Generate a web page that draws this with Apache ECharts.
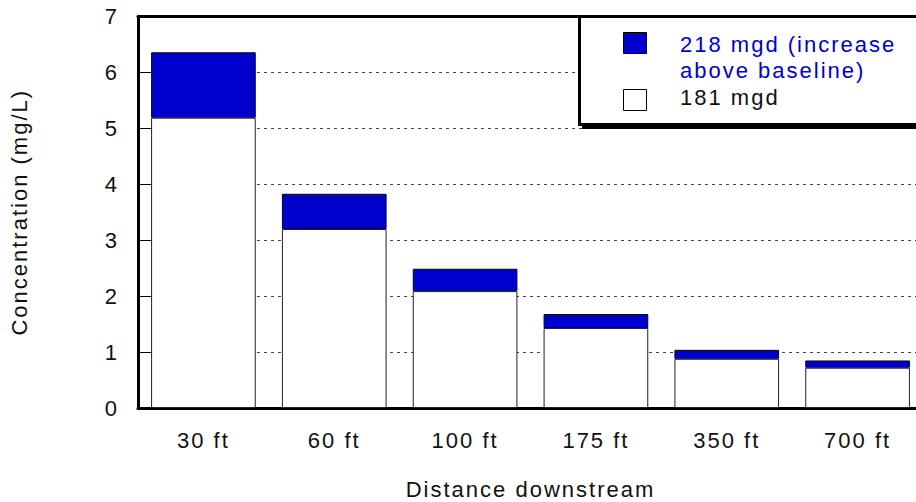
<!DOCTYPE html>
<html>
<head>
<meta charset="utf-8">
<script src="https://cdn.jsdelivr.net/npm/echarts@6/dist/echarts.min.js"></script>
<style>
    html, body { margin: 0; padding: 0; background: #fff; overflow: hidden; }
    /* 원본 플롯이 오른쪽 끝을 넘어가므로 컨테이너를 약간 넓게 */
    #chart { width: 930px; height: 502px; }
    /* 원본 글자 간격이 넓어서 SVG 텍스트에 자간 추가 */
    #chart text { letter-spacing: 2px; }
</style>
</head>
<body>
<div id="chart"></div>
<script>
// 거리별 농도 데이터
var categories = ['30 ft', '60 ft', '100 ft', '175 ft', '350 ft', '700 ft'];
var baseValues = [5.19, 3.20, 2.09, 1.43, 0.88, 0.72];
var increaseValues = [1.17, 0.63, 0.40, 0.25, 0.16, 0.13];
var yTicks = [0, 1, 2, 3, 4, 5, 6, 7];
var baseName = '181 mgd';
var increaseName = '218 mgd (increase\nabove baseline)';

var FONT = '"Liberation Sans", Arial, sans-serif';
var BLUE = '#0000CC';

var chart = echarts.init(document.getElementById('chart'), null, { renderer: 'svg' });

var option = {
    animation: false,
    backgroundColor: '#fff',
    textStyle: { fontFamily: FONT },
    grid: {
        left: 138,
        top: 16.5,
        width: 785,
        height: 391.5,
        outerBoundsMode: 'none'
    },
    xAxis: [{
        type: 'category',
        data: categories,
        position: 'bottom',
        axisLine: { lineStyle: { color: '#000', width: 3 } },
        axisTick: { show: false },
        axisLabel: { fontSize: 22, color: '#111', margin: 21, fontFamily: FONT },
        name: 'Distance downstream',
        nameLocation: 'middle',
        nameGap: 70,
        nameTextStyle: { fontSize: 22, color: '#111', fontFamily: FONT }
    }, {
        type: 'category',
        data: categories,
        position: 'top',
        axisLine: { lineStyle: { color: '#000', width: 3 } },
        axisTick: { show: false },
        axisLabel: { show: false }
    }],
    yAxis: {
        type: 'value',
        min: yTicks[0],
        max: yTicks[yTicks.length - 1],
        interval: 1,
        axisLine: { show: true, lineStyle: { color: '#000', width: 3 } },
        axisTick: { show: true, inside: true, length: 13, lineStyle: { color: '#000', width: 1 } },
        axisLabel: { fontSize: 22, color: '#111', margin: 19, fontFamily: FONT },
        splitLine: { lineStyle: { color: '#444', width: 1, type: [3, 4] } },
        name: 'Concentration (mg/L)',
        nameLocation: 'middle',
        nameGap: 108,
        nameTextStyle: { fontSize: 22, color: '#111', fontFamily: FONT }
    },
    series: [{
        name: baseName,
        type: 'bar',
        stack: 'conc',
        data: baseValues,
        barCategoryGap: '20%',
        itemStyle: { color: '#fff', borderColor: '#222', borderWidth: 1 }
    }, {
        name: increaseName,
        type: 'bar',
        stack: 'conc',
        data: increaseValues,
        barCategoryGap: '20%',
        itemStyle: { color: BLUE, borderColor: '#000044', borderWidth: 1 }
    }],
    // 범례 박스 (원본처럼 그림자 있는 상자)
    graphic: [{
        type: 'rect',
        z: 100,
        shape: { x: 582, y: 19, width: 400, height: 110 },
        style: { fill: '#000' }
    }, {
        type: 'rect',
        z: 101,
        shape: { x: 579.5, y: 16.5, width: 400, height: 108 },
        style: { fill: '#fff', stroke: '#000', lineWidth: 3 }
    }, {
        type: 'rect',
        z: 102,
        shape: { x: 623.5, y: 32.5, width: 23, height: 21 },
        style: { fill: BLUE, stroke: '#000', lineWidth: 1 }
    }, {
        type: 'rect',
        z: 102,
        shape: { x: 623.5, y: 89.5, width: 23, height: 21 },
        style: { fill: '#fff', stroke: '#000', lineWidth: 1 }
    }, {
        type: 'text',
        z: 102,
        style: {
            x: 680, y: 31,
            text: increaseName,
            font: '22px ' + FONT,
            lineHeight: 26,
            fill: BLUE,
            verticalAlign: 'top'
        }
    }, {
        type: 'text',
        z: 102,
        style: {
            x: 680, y: 84,
            text: baseName,
            font: '22px ' + FONT,
            lineHeight: 26,
            fill: '#111',
            verticalAlign: 'top'
        }
    }]
};

chart.setOption(option);

window.addEventListener('resize', function() {
    chart.resize();
});
</script>
</body>
</html>
